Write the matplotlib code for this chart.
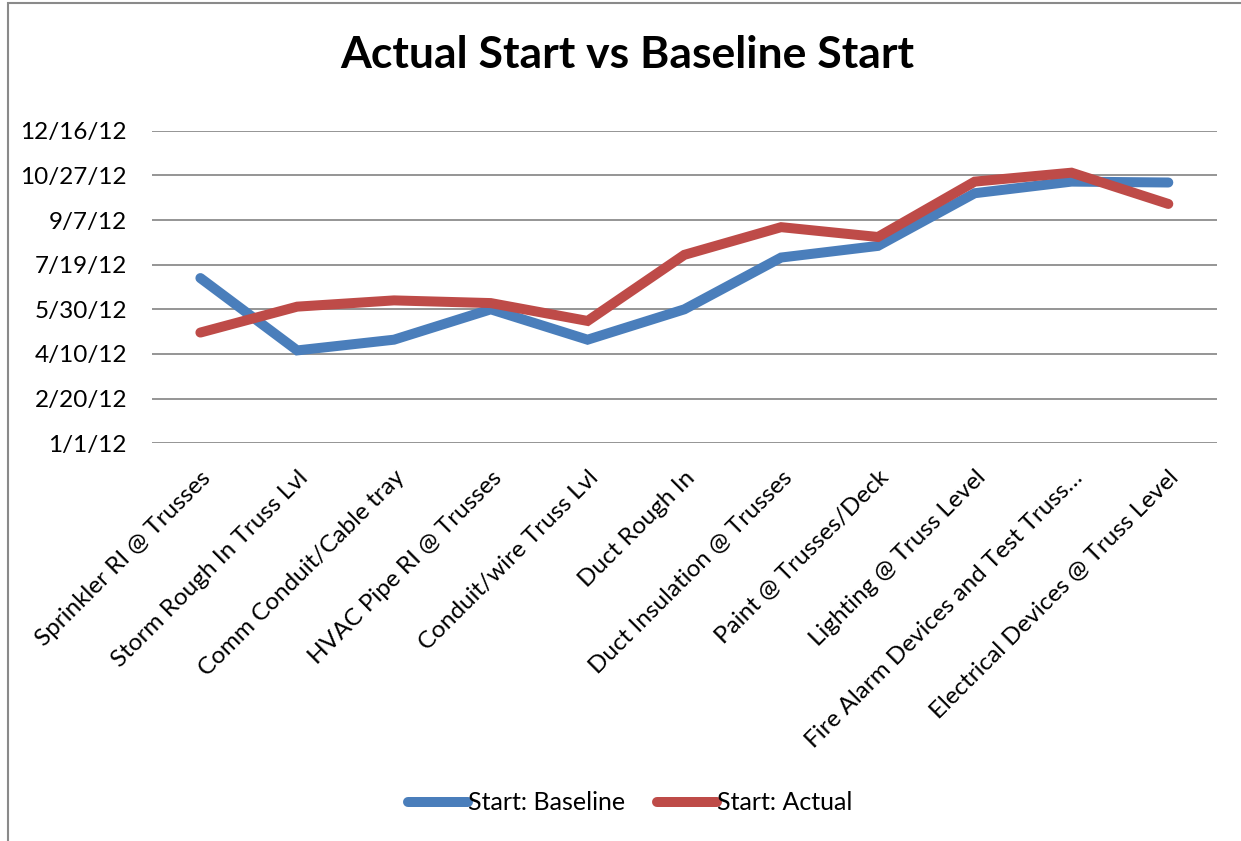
import matplotlib
matplotlib.use("Agg")
import matplotlib.pyplot as plt
import matplotlib.dates as mdates
from matplotlib.patches import Rectangle
import datetime as dt

# Task names (x categories)
tasks = [
    "Sprinkler RI @ Trusses",
    "Storm Rough In Truss Lvl",
    "Comm Conduit/Cable tray",
    "HVAC Pipe RI @ Trusses",
    "Conduit/wire Truss Lvl",
    "Duct Rough In",
    "Duct Insulation @ Trusses",
    "Paint @ Trusses/Deck",
    "Lighting @ Truss Level",
    "Fire Alarm Devices and Test Truss\u2026",
    "Electrical Devices @ Truss Level",
]

baseline_start = [
    "2012-07-04", "2012-04-14", "2012-04-26", "2012-05-30", "2012-04-26",
    "2012-05-30", "2012-07-27", "2012-08-09", "2012-10-07", "2012-10-20",
    "2012-10-19",
]

actual_start = [
    "2012-05-04", "2012-06-02", "2012-06-09", "2012-06-06", "2012-05-17",
    "2012-07-30", "2012-08-30", "2012-08-19", "2012-10-20", "2012-10-30",
    "2012-09-25",
]

y_ticks = ["2012-01-01", "2012-02-20", "2012-04-10", "2012-05-30",
           "2012-07-19", "2012-09-07", "2012-10-27", "2012-12-16"]

BLUE = "#4A7EBB"
RED = "#BE4B48"
FONT = "Lato"


def to_num(values):
    return [mdates.date2num(dt.datetime.strptime(v, "%Y-%m-%d")) for v in values]


def date_label(v, pos):
    d = mdates.num2date(v)
    return "{}/{}/{}".format(d.month, d.day, d.strftime("%y"))


fig = plt.figure(figsize=(12.41, 8.41), dpi=100)
fig.patch.set_facecolor("white")

# chart-area frame
fig.patches.append(Rectangle((8 / 1241, -0.1), 1.2, 1.1 - 3 / 841,
                             transform=fig.transFigure, fill=False,
                             edgecolor="#8a8a8a", linewidth=1.5))

ax = fig.add_axes([152 / 1241, 1 - 443.3 / 841, (1216.7 - 152) / 1241,
                   (443.3 - 130.7) / 841])

x = list(range(len(tasks)))
yt = to_num(y_ticks)

ax.plot(x, to_num(baseline_start), color=BLUE, lw=7.2,
        solid_capstyle="round", solid_joinstyle="miter",
        label="Start: Baseline", zorder=3)
ax.plot(x, to_num(actual_start), color=RED, lw=7.2,
        solid_capstyle="round", solid_joinstyle="miter",
        label="Start: Actual", zorder=4)

ax.set_xlim(-0.5, len(tasks) - 0.5)
ax.set_ylim(yt[0], yt[-1])
ax.set_yticks(yt)
ax.yaxis.set_major_formatter(matplotlib.ticker.FuncFormatter(date_label))
ax.grid(axis="y", color="#8c8c8c", lw=1.3, zorder=0)
ax.set_axisbelow(True)
for s in ax.spines.values():
    s.set_visible(False)
ax.tick_params(axis="both", length=0)
ax.tick_params(axis="y", pad=18, labelsize=17.5)
for lbl in ax.get_yticklabels():
    lbl.set_fontfamily(FONT)

ax.set_xticks(x)
ax.set_xticklabels(tasks, rotation=45, ha="right", va="top",
                   rotation_mode="anchor", fontsize=17.5, fontfamily=FONT)
ax.tick_params(axis="x", pad=17)

fig.text(627 / 1241, 1 - 55 / 841, "Actual Start vs Baseline Start",
         ha="center", va="center", fontsize=32, fontweight="bold",
         fontfamily=FONT)

leg = fig.legend(loc="center", bbox_to_anchor=(630 / 1241, 1 - 803 / 841),
                 ncol=2, frameon=False, handlelength=2.4, handletextpad=0.0,
                 columnspacing=1.3, prop={"family": FONT, "size": 18})

fig.savefig("out.png", dpi=100, facecolor="white")
